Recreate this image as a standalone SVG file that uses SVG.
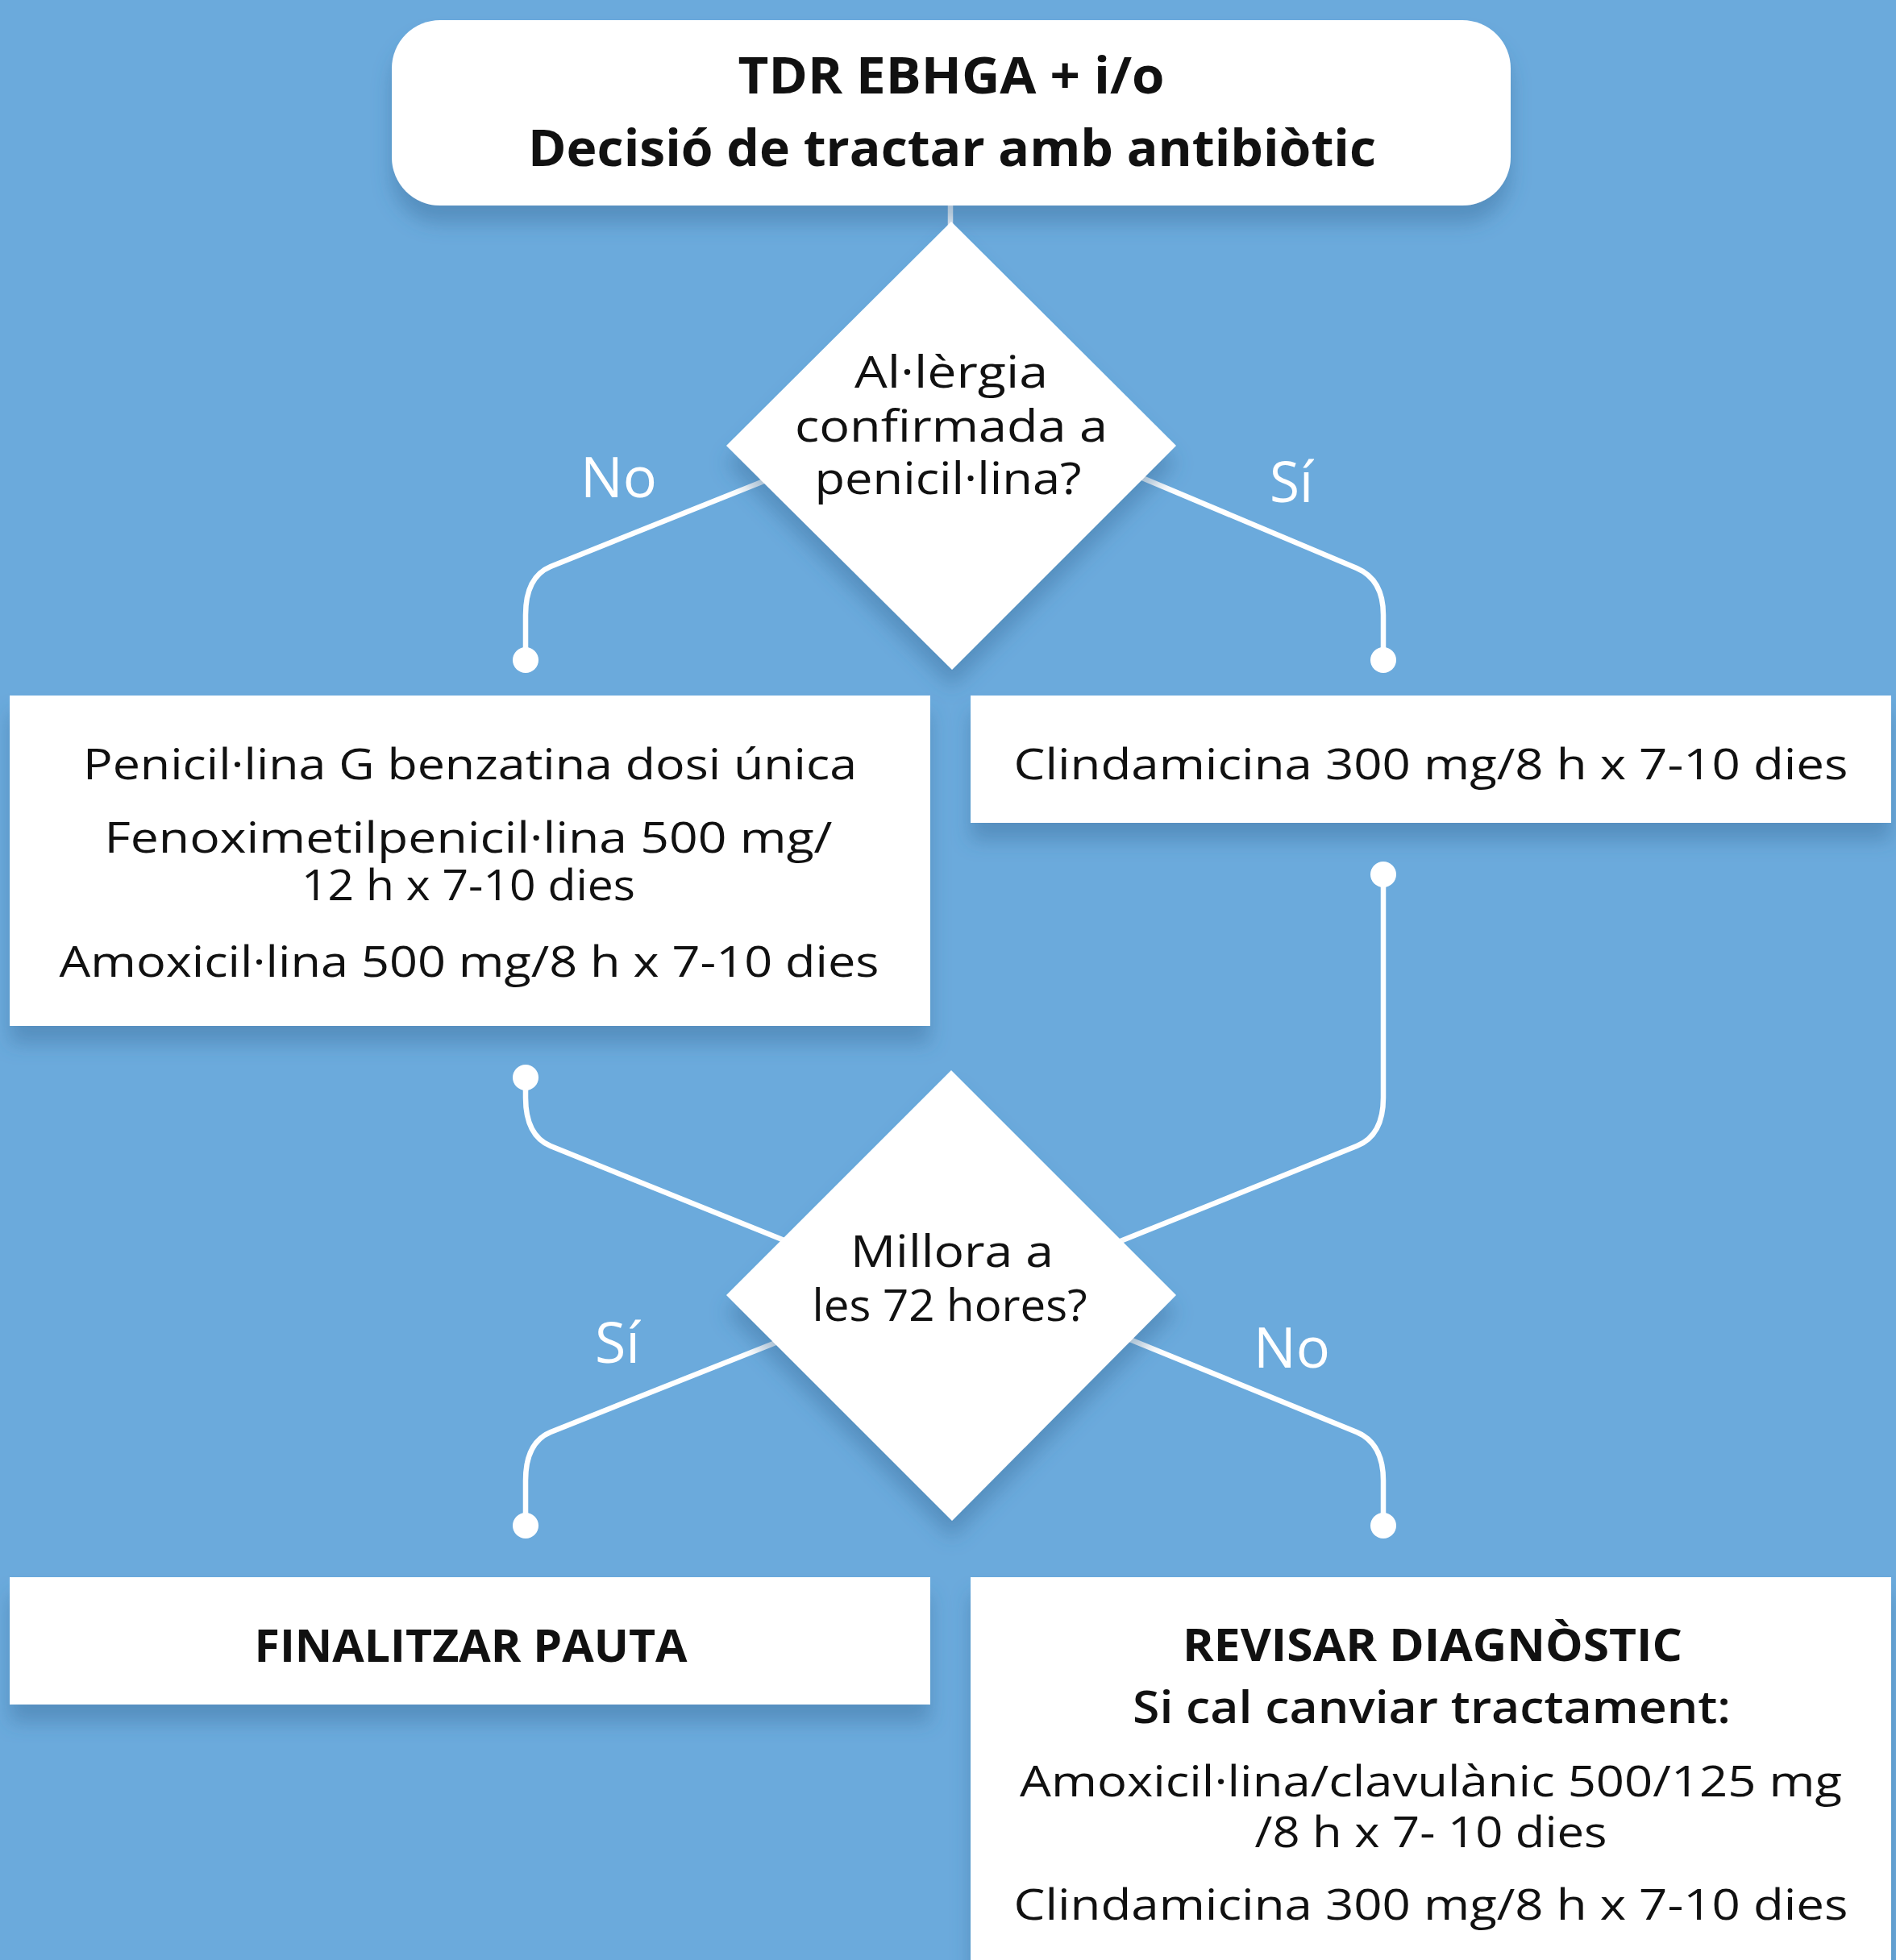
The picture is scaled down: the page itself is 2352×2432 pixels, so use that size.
<svg xmlns="http://www.w3.org/2000/svg" width="2352" height="2432" viewBox="0 0 2352 2432">
  <defs>
    <filter id="sh" x="-10%" y="-10%" width="120%" height="140%">
      <feDropShadow dx="0" dy="22" stdDeviation="12" flood-color="#3d6e9c" flood-opacity="0.45"/>
    </filter>
    <style>
      .node { fill: #ffffff; }
      .conn { fill: none; stroke: #ffffff; stroke-width: 6.5; stroke-linecap: round; stroke-linejoin: round; }
      .dot { fill: #ffffff; }
      .t { font-family: "Open Sans", "Noto Sans", "DejaVu Sans", sans-serif; fill: #111111; text-anchor: middle; }
      .b { font-weight: 700; }
      .sb { font-weight: 600; }
      .lbl { font-family: "Open Sans", "Noto Sans", "DejaVu Sans", sans-serif; fill: #ffffff; font-size: 70px; text-anchor: start; }
    </style>
  </defs>
  <rect x="0" y="0" width="2352" height="2432" fill="#6BAADC"/>

  <g id="connectors">
    <path class="conn" d="M1179 250 L1179 290"/>
    <path class="conn" d="M1000 576 L683 703 Q652 716 652 763 L652 819"/>
    <path class="conn" d="M1360 569 L1683 705 Q1716 719 1716 763 L1716 819"/>
    <path class="conn" d="M652 1337 L652 1362 Q652 1409 683 1422 L1000 1550"/>
    <path class="conn" d="M1716 1085 L1716 1362 Q1716 1409 1683 1422 L1360 1552"/>
    <path class="conn" d="M1000 1651 L683 1777 Q652 1790 652 1837 L652 1893"/>
    <path class="conn" d="M1360 1645 L1683 1777 Q1716 1791 1716 1837 L1716 1893"/>
    <circle class="dot" cx="652" cy="819" r="16"/>
    <circle class="dot" cx="1716" cy="819" r="16"/>
    <circle class="dot" cx="652" cy="1337" r="16"/>
    <circle class="dot" cx="1716" cy="1085" r="16"/>
    <circle class="dot" cx="652" cy="1893" r="16"/>
    <circle class="dot" cx="1716" cy="1893" r="16"/>
    <text class="lbl" x="720" y="617" textLength="95" lengthAdjust="spacingAndGlyphs">No</text>
    <text class="lbl" x="1575" y="623" textLength="54" lengthAdjust="spacingAndGlyphs">Sí</text>
    <text class="lbl" x="738" y="1691" textLength="56" lengthAdjust="spacingAndGlyphs">Sí</text>
    <text class="lbl" x="1555" y="1697" textLength="95" lengthAdjust="spacingAndGlyphs">No</text>
  </g>

  <g id="start">
    <rect class="node" x="486" y="25" width="1388" height="230" rx="60" ry="60" filter="url(#sh)"/>
    <text class="t b" x="1180" y="116" font-size="62" textLength="529" lengthAdjust="spacingAndGlyphs">TDR EBHGA + i/o</text>
    <text class="t b" x="1181" y="206" font-size="62" textLength="1052" lengthAdjust="spacingAndGlyphs">Decisió de tractar amb antibiòtic</text>
  </g>

  <g id="decision-allergy">
    <polygon class="node" points="1180,275 1459,553 1181,831 901,553" filter="url(#sh)"/>
    <text class="t" x="1180" y="481" font-size="55" textLength="240" lengthAdjust="spacingAndGlyphs">Al·lèrgia</text>
    <text class="t" x="1180" y="548" font-size="55" textLength="388" lengthAdjust="spacingAndGlyphs">confirmada a</text>
    <text class="t" x="1176" y="613" font-size="55" textLength="331" lengthAdjust="spacingAndGlyphs">penicil·lina?</text>
  </g>

  <g id="penicillin-treatment">
    <rect class="node" x="12" y="863" width="1142" height="410" filter="url(#sh)"/>
    <text class="t" x="583" y="967" font-size="53" textLength="960" lengthAdjust="spacingAndGlyphs">Penicil·lina G benzatina dosi única</text>
    <text class="t" x="581" y="1058" font-size="53" textLength="903" lengthAdjust="spacingAndGlyphs">Fenoximetilpenicil·lina 500 mg/</text>
    <text class="t" x="581" y="1117" font-size="53" textLength="414" lengthAdjust="spacingAndGlyphs">12 h x 7-10 dies</text>
    <text class="t" x="582" y="1212" font-size="53" textLength="1017" lengthAdjust="spacingAndGlyphs">Amoxicil·lina 500 mg/8 h x 7-10 dies</text>
  </g>

  <g id="clindamycin-treatment">
    <rect class="node" x="1204" y="863" width="1142" height="158" filter="url(#sh)"/>
    <text class="t" x="1775" y="967" font-size="53" textLength="1035" lengthAdjust="spacingAndGlyphs">Clindamicina 300 mg/8 h x 7-10 dies</text>
  </g>

  <g id="decision-improve">
    <polygon class="node" points="1180,1328 1459,1607 1181,1887 901,1607" filter="url(#sh)"/>
    <text class="t" x="1181" y="1572" font-size="55" textLength="252" lengthAdjust="spacingAndGlyphs">Millora a</text>
    <text class="t" x="1178" y="1639" font-size="55" textLength="341" lengthAdjust="spacingAndGlyphs">les 72 hores?</text>
  </g>

  <g id="finish">
    <rect class="node" x="12" y="1957" width="1142" height="158" filter="url(#sh)"/>
    <text class="t b" x="584" y="2062" font-size="56" textLength="537" lengthAdjust="spacingAndGlyphs">FINALITZAR PAUTA</text>
  </g>

  <g id="review">
    <rect class="node" x="1204" y="1957" width="1142" height="490" filter="url(#sh)"/>
    <text class="t b" x="1777" y="2061" font-size="56" textLength="620" lengthAdjust="spacingAndGlyphs">REVISAR DIAGNÒSTIC</text>
    <text class="t sb" x="1776" y="2138" font-size="56" textLength="742" lengthAdjust="spacingAndGlyphs">Si cal canviar tractament:</text>
    <text class="t" x="1775" y="2229" font-size="53" textLength="1020" lengthAdjust="spacingAndGlyphs">Amoxicil·lina/clavulànic 500/125 mg</text>
    <text class="t" x="1775" y="2292" font-size="53" textLength="437" lengthAdjust="spacingAndGlyphs">/8 h x 7- 10 dies</text>
    <text class="t" x="1775" y="2382" font-size="53" textLength="1035" lengthAdjust="spacingAndGlyphs">Clindamicina 300 mg/8 h x 7-10 dies</text>
  </g>
</svg>
